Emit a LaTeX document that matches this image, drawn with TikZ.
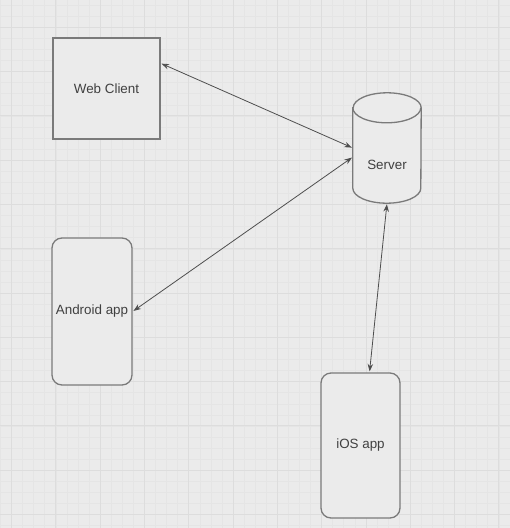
\documentclass[tikz,border=0pt]{standalone}
\usepackage{fontspec}
\setmainfont{Liberation Sans}
\usetikzlibrary{arrows.meta}

\definecolor{paper}{HTML}{EBEBEB}
\definecolor{gridminor}{HTML}{E5E5E5}
\definecolor{gridmajor}{HTML}{DDDDDD}
\definecolor{shapeline}{HTML}{7A7A7A}
\definecolor{linkline}{HTML}{4E4E4E}
\definecolor{labeltext}{HTML}{404040}

\tikzset{
  outline/.style={draw=shapeline,line width=1.3pt,fill=paper},
  box/.style={outline,text=labeltext,font=\fontsize{13.4}{15}\selectfont,inner sep=0pt},
  phone/.style={box,rounded corners=10pt},
  tag/.style={text=labeltext,font=\fontsize{13.4}{15}\selectfont,inner sep=0pt},
  link/.style={{Stealth[length=7.5pt,width=5.5pt]}-{Stealth[length=7.5pt,width=5.5pt]},
    color=linkline,line width=0.8pt,shorten <=1pt,shorten >=1pt}
}

\begin{document}
\begin{tikzpicture}[x=1pt,y=-1pt]

  \useasboundingbox (0,0) rectangle (510,528);
  \fill[paper] (0,0) rectangle (510,528);

  % grid paper
  \foreach \i in {0,...,47} {
    \draw[gridminor,line width=0.3pt] (0.3+11.075*\i,0) -- (0.3+11.075*\i,528);
    \draw[gridminor,line width=0.3pt] (0,5+11.075*\i) -- (510,5+11.075*\i);
  }
  \foreach \i in {0,...,11} {
    \draw[gridmajor,line width=0.6pt] (11.4+44.3*\i,0) -- (11.4+44.3*\i,528);
    \draw[gridmajor,line width=0.6pt] (0,27+44.3*\i) -- (510,27+44.3*\i);
  }

  \node[box,minimum width=107pt,minimum height=101pt] (web) at (106.5,88.5) {Web Client};
  \node[phone,minimum width=80pt,minimum height=147pt] (android) at (92,311.5) {Android app};
  \node[phone,minimum width=79pt,minimum height=145pt] (ios) at (360.5,445.5) {iOS app};

  % server drum
  \node[minimum width=68pt,minimum height=110pt,inner sep=0pt] (server) at (387,148) {};
  \draw[outline] ([yshift=-15pt]server.north west) -- ([yshift=15pt]server.south west)
    arc[start angle=180,end angle=0,x radius=34,y radius=15]
    -- ([yshift=-15pt]server.north east)
    arc[start angle=0,end angle=-180,x radius=34,y radius=15] -- cycle;
  \draw[outline,fill=none] ([yshift=-15pt]server.north west)
    arc[start angle=180,end angle=0,x radius=34,y radius=15];
  \node[tag] (serverlabel) at ([yshift=-17pt]server.center) {Server};

  \path[link] (web.25) edge (server.west);
  \path[link] (android.east) edge ([yshift=-9pt]server.west);
  \path[link] (server.south) edge ([xshift=9pt]ios.north);

\end{tikzpicture}
\end{document}
